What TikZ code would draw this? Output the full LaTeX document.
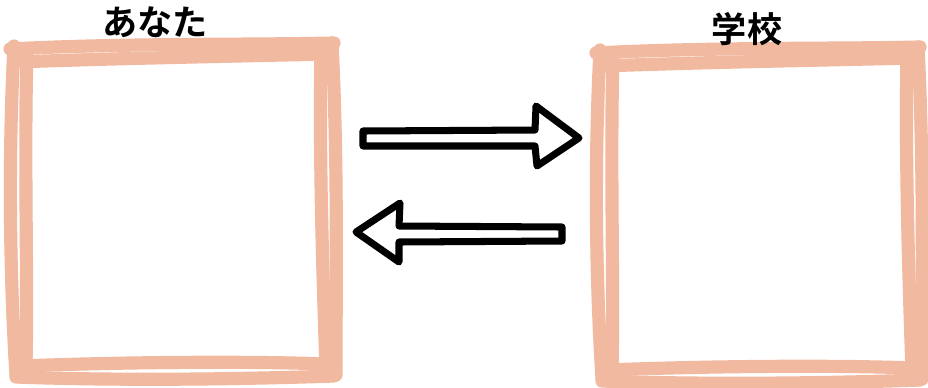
\documentclass[tikz,border=0pt]{standalone}
\usepackage{fontspec}
\newfontfamily\jpfont{Noto Sans CJK JP}[BoldFont={* Bold}]
\definecolor{peach}{HTML}{F1B9A0}
\tikzset{
  stroke/.style={draw=peach, line width=7.5pt, line cap=round},
  blockarrow/.style={draw=black, fill=white, line width=4pt, line join=round},
  title/.style={font=\jpfont\bfseries\fontsize{20pt}{22pt}\selectfont},
  sketchframe/.pic={
    % top
    \draw[stroke] (4,9) .. controls (120,3) and (240,5) .. (328,3);
    \draw[stroke] (10,22) .. controls (120,18) and (240,16) .. (320,14);
    % left
    \draw[stroke] (8,6) .. controls (2,120) and (4,240) .. (10,335);
    \draw[stroke] (21,12) .. controls (18,120) and (22,240) .. (20,325);
    % right
    \draw[stroke] (326,3) .. controls (332,120) and (330,240) .. (330,335);
    \draw[stroke] (315,10) .. controls (313,120) and (317,240) .. (320,328);
    % bottom
    \draw[stroke] (10,337) .. controls (120,341) and (240,339) .. (328,336);
    \draw[stroke] (14,326) .. controls (120,322) and (240,321) .. (322,324);
  }
}
\begin{document}
\begin{tikzpicture}[x=0.02cm, y=-0.02cm]
\useasboundingbox (0,0) rectangle (928,387);
% boxes
\pic at (6,40) {sketchframe};
\pic at (592,44) {sketchframe};
\node[title] (you) at (155,22) {あなた};
\node[title] (school) at (747,29) {学校};
% arrows
\draw[blockarrow] (363,131) -- (535,130) -- (536,106) -- (579,138)
  -- (537,166) -- (535,146) -- (363,146) -- cycle;
\draw[blockarrow] (562,227) -- (399,226) -- (400,203) -- (356,232)
  -- (399,262) -- (399,242) -- (562,241) -- cycle;
\end{tikzpicture}
\end{document}
